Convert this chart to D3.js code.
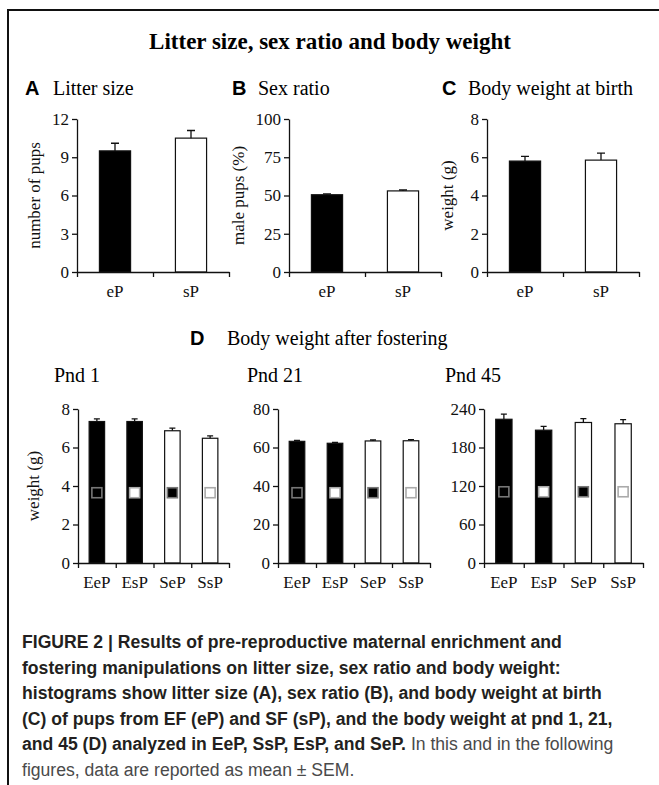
<!DOCTYPE html>
<html>
<head>
<meta charset="utf-8">
<script src="https://cdn.jsdelivr.net/npm/d3@7"></script>
<style>
  body { margin: 0; background: white; }
  svg { display: block; }
</style>
</head>
<body>
<div id="figure"></div>
<script>
// Figure 2: litter size, sex ratio and body weight

const width = 659;
const height = 785;

// data
const groupsBirth = ["eP", "sP"];
const litterSize = [9.5, 10.5];
const litterSizeErr = [0.6, 0.6];
const sexRatio = [50.5, 53];
const sexRatioErr = [0.6, 0.6];
const birthWeight = [5.8, 5.85];
const birthWeightErr = [0.25, 0.37];

const groupsFoster = ["EeP", "EsP", "SeP", "SsP"];
const pnd1 = [7.35, 7.35, 6.87, 6.48];
const pnd1Err = [0.14, 0.14, 0.14, 0.12];
const pnd21 = [63.2, 62.2, 63.4, 63.5];
const pnd21Err = [0.5, 0.5, 0.5, 0.6];
const pnd45 = [224, 207, 219, 217];
const pnd45Err = [8, 6, 6, 6.5];
const markerLevel = [3.65, 36.5, 111]; // foster-mother squares (pnd 1, 21, 45)

const ticksA = [0, 3, 6, 9, 12];
const ticksB = [0, 25, 50, 75, 100];
const ticksC = [0, 2, 4, 6, 8];
const ticksPnd1 = [0, 2, 4, 6, 8];
const ticksPnd21 = [0, 20, 40, 60, 80];
const ticksPnd45 = [0, 60, 120, 180, 240];

const serif = "'Liberation Serif', 'Times New Roman', serif";
const sans = "'Liberation Sans', Arial, sans-serif";

const svg = d3.select("#figure")
  .append("svg")
  .attr("width", width)
  .attr("height", height);

// frame
svg.append("path")
  .attr("d", `M8,${height} V10 H${width}`)
  .attr("fill", "none")
  .attr("stroke", "#111")
  .attr("stroke-width", 2);

svg.append("text")
  .attr("x", 330).attr("y", 49)
  .attr("text-anchor", "middle")
  .attr("font-family", serif).attr("font-weight", "bold").attr("font-size", 23)
  .text("Litter size, sex ratio and body weight");

// panel headings: bold sans letter + serif name
function heading(letter, lx, tx, y, name) {
  svg.append("text").attr("x", lx).attr("y", y)
    .attr("font-family", sans).attr("font-weight", "bold").attr("font-size", 20)
    .text(letter);
  svg.append("text").attr("x", tx).attr("y", y)
    .attr("font-family", serif).attr("font-size", 20)
    .text(name);
}
heading("A", 25, 53, 95, "Litter size");
heading("B", 232, 258, 95, "Sex ratio");
heading("C", 442, 468, 95, "Body weight at birth");
heading("D", 190, 227, 345, "Body weight after fostering");

[["Pnd 1", 54], ["Pnd 21", 247], ["Pnd 45", 445]].forEach(p => {
  svg.append("text").attr("x", p[1]).attr("y", 382)
    .attr("font-family", serif).attr("font-size", 20)
    .text(p[0]);
});

// one bar panel
function barPanel(o) {
  const n = o.cats.length;
  const y = d3.scaleLinear()
    .domain([0, o.ticks[o.ticks.length - 1]])
    .range([o.y0, o.y1]);
  const xEdge = d3.scaleLinear().domain([0, n]).range([o.x0, o.x1]);
  const xBand = d3.scaleBand().domain(o.cats).range([o.x0, o.x1]).padding(0);
  const bw = xBand.bandwidth() * 0.41;
  const rows = o.cats.map((c, i) => ({name: c, value: o.values[i], err: o.errs[i]}));
  const g = svg.append("g");

  // bars
  g.selectAll(".bar")
    .data(rows)
    .enter()
    .append("rect")
      .attr("class", "bar")
      .attr("x", d => xBand(d.name) + (xBand.bandwidth() - bw) / 2)
      .attr("y", d => y(d.value))
      .attr("width", bw)
      .attr("height", d => y(0) - y(d.value))
      .attr("fill", d => d.name[0].toLowerCase() === "e" ? "#000" : "#fff")
      .attr("stroke", "#111")
      .attr("stroke-width", 1.2);

  // error bars (upper half only)
  const cap = o.cap;
  g.selectAll(".err")
    .data(rows)
    .enter()
    .append("path")
      .attr("class", "err")
      .attr("d", d => {
        const cx = xBand(d.name) + xBand.bandwidth() / 2;
        return `M${cx},${y(d.value)} V${y(d.value + d.err)} M${cx - cap / 2},${y(d.value + d.err)} H${cx + cap / 2}`;
      })
      .attr("fill", "none")
      .attr("stroke", "#111")
      .attr("stroke-width", 1.3);

  // foster-mother markers
  if (o.marker !== undefined) {
    g.selectAll(".mark")
      .data(rows)
      .enter()
      .append("rect")
        .attr("class", "mark")
        .attr("x", d => xBand(d.name) + xBand.bandwidth() / 2 - 5)
        .attr("y", y(o.marker) - 5)
        .attr("width", 10)
        .attr("height", 10)
        .attr("fill", d => d.name[1] === "e" ? "#000" : "#fff")
        .attr("stroke", d => d.name[1] === "e" ? "#777" : "#aaa")
        .attr("stroke-width", 1.6);
  }

  // y axis
  const ya = g.append("g")
    .attr("transform", `translate(${o.x0},0)`)
    .call(d3.axisLeft(y).tickValues(o.ticks).tickSize(5).tickSizeOuter(0).tickPadding(3));
  ya.attr("font-family", serif).attr("font-size", 17);

  // x axis: ticks on category edges
  const xa = g.append("g")
    .attr("transform", `translate(0,${o.y0})`)
    .call(d3.axisBottom(xEdge).tickValues(d3.range(n + 1)).tickFormat("").tickSize(5).tickSizeOuter(0));

  [ya, xa].forEach(a => {
    a.select(".domain").attr("stroke", "#111").attr("stroke-width", 1.3);
    a.selectAll(".tick line").attr("stroke", "#111").attr("stroke-width", 1.3);
    a.selectAll(".tick text").attr("fill", "#111");
  });

  g.selectAll(".catlabel")
    .data(o.cats)
    .enter()
    .append("text")
      .attr("class", "catlabel")
      .attr("x", d => xBand(d) + xBand.bandwidth() / 2)
      .attr("y", o.y0 + 25)
      .attr("text-anchor", "middle")
      .attr("font-family", serif).attr("font-size", 17)
      .attr("fill", "#111")
      .text(d => d);

  if (o.yLabel) {
    g.append("text")
      .attr("transform", `translate(${o.yLabelX},${(o.y0 + o.y1) / 2}) rotate(-90)`)
      .attr("text-anchor", "middle")
      .attr("font-family", serif).attr("font-size", 17)
      .attr("fill", "#111")
      .text(o.yLabel);
  }
}

barPanel({x0: 77, x1: 229, y0: 272, y1: 119, ticks: ticksA, cats: groupsBirth,
  values: litterSize, errs: litterSizeErr, cap: 8, yLabel: "number of pups", yLabelX: 40});
barPanel({x0: 289, x1: 441, y0: 272, y1: 119, ticks: ticksB, cats: groupsBirth,
  values: sexRatio, errs: sexRatioErr, cap: 8, yLabel: "male pups (%)", yLabelX: 244});
barPanel({x0: 487, x1: 639, y0: 272, y1: 119, ticks: ticksC, cats: groupsBirth,
  values: birthWeight, errs: birthWeightErr, cap: 8, yLabel: "weight (g)", yLabelX: 453});

barPanel({x0: 78, x1: 229, y0: 563, y1: 409, ticks: ticksPnd1, cats: groupsFoster,
  values: pnd1, errs: pnd1Err, cap: 6, marker: markerLevel[0], yLabel: "weight (g)", yLabelX: 39});
barPanel({x0: 278, x1: 430, y0: 563, y1: 409, ticks: ticksPnd21, cats: groupsFoster,
  values: pnd21, errs: pnd21Err, cap: 6, marker: markerLevel[1]});
barPanel({x0: 484, x1: 643, y0: 563, y1: 409, ticks: ticksPnd45, cats: groupsFoster,
  values: pnd45, errs: pnd45Err, cap: 6, marker: markerLevel[2]});

// caption
const captionLines = [
  [["FIGURE 2 | Results of pre-reproductive maternal enrichment and", true]],
  [["fostering manipulations on litter size, sex ratio and body weight:", true]],
  [["histograms show litter size (A), sex ratio (B), and body weight at birth", true]],
  [["(C) of pups from EF (eP) and SF (sP), and the body weight at pnd 1, 21,", true]],
  [["and 45 (D) analyzed in EeP, SsP, EsP, and SeP.", true], [" In this and in the following", false]],
  [["figures, data are reported as mean \u00b1 SEM.", false]]
];
const caption = svg.append("g")
  .attr("font-family", sans)
  .attr("font-size", 17.6);
captionLines.forEach((line, i) => {
  const t = caption.append("text")
    .attr("x", 22)
    .attr("y", 648 + i * 25.6);
  line.forEach(part => {
    t.append("tspan")
      .attr("font-weight", part[1] ? "bold" : "normal")
      .attr("fill", part[1] ? "#231f20" : "#4a4a4a")
      .text(part[0]);
  });
});
</script>
</body>
</html>
